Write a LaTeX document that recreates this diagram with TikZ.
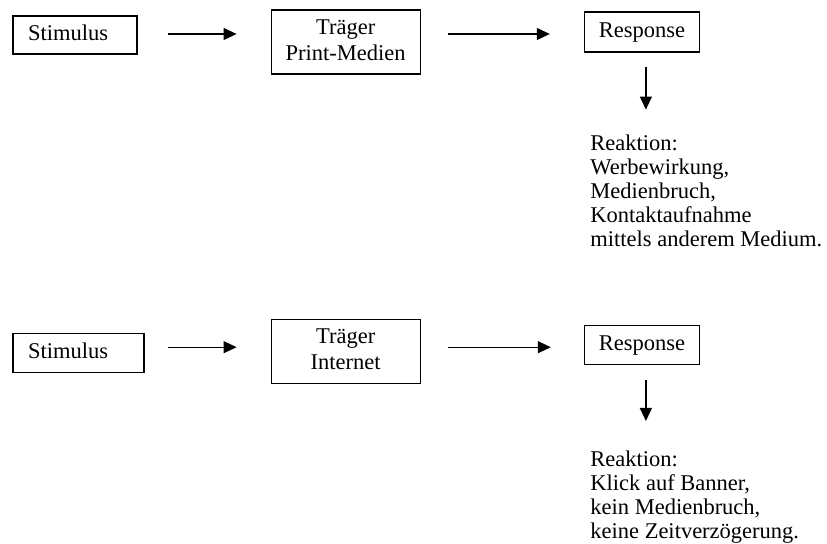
\documentclass[tikz,border=0pt]{standalone}
\usepackage{fontspec}
\setmainfont{Liberation Serif}
\usetikzlibrary{positioning, arrows.meta}
\newcommand{\boxstrut}{\rule[-2.43pt]{0pt}{10pt}}

\begin{document}
\begin{tikzpicture}[>={Triangle[length=6.5pt,width=6pt]}, line width=0.6pt,
    font=\fontsize{11.25}{13}\selectfont,
    box/.style={draw, rectangle, inner sep=0pt, align=center},
    stimbox/.style={box, align=left, inner xsep=7.5pt},
    reaction/.style={align=left, inner sep=0pt, font=\fontsize{11.25}{12}\selectfont}]
    \useasboundingbox (0,0) rectangle (413.5pt,-272pt);

    % Print-Medien
    \node[stimbox, text width=47pt, minimum height=19pt] (stim1) at (37.5pt,-17.5pt) {\boxstrut Stimulus};
    \node[box, minimum width=74.5pt, minimum height=32pt] (trg1) [right=66.5pt of stim1, yshift=-3.5pt] {\boxstrut Träger\\\boxstrut Print-Medien};
    \node[box, minimum width=57.5pt, minimum height=20pt] (resp1) [right=81.5pt of trg1, yshift=5pt] {\boxstrut Response};
    \node[reaction] (reac1) [below right=40.8pt and 3pt of resp1.south west] {Reaktion:\\Werbewirkung,\\Medienbruch,\\Kontaktaufnahme\\mittels anderem Medium.};

    \coordinate (row1) at ([yshift=0.5pt]stim1.east);
    \draw[->, shorten <=15pt, shorten >=17pt] (row1) -- (row1 -| trg1.west);
    \draw[->, shorten <=13.5pt, shorten >=17pt] (row1 -| trg1.east) -- (row1 -| resp1.west);
    \draw[->, shorten <=7pt, shorten >=12.3pt] ([xshift=2pt]resp1.south) -- ([xshift=2pt]resp1.south |- reac1.north);

    % Internet
    \node[stimbox, text width=50.5pt, minimum height=19.5pt] (stim2) [below=139pt of stim1.south west, anchor=north west] {\boxstrut Stimulus};
    \node[box, minimum width=74.5pt, minimum height=32pt] (trg2) [right=63pt of stim2, yshift=0.5pt] {\boxstrut Träger\\\boxstrut Internet};
    \node[box, minimum width=57.5pt, minimum height=19.5pt] (resp2) [right=81.5pt of trg2, yshift=3.4pt] {\boxstrut Response};
    \node[reaction] (reac2) [below right=42.8pt and 3pt of resp2.south west] {Reaktion:\\Klick auf Banner,\\kein Medienbruch,\\keine Zeitverzögerung.};

    \coordinate (row2) at ([yshift=2.75pt]stim2.east);
    \draw[->, shorten <=11.5pt, shorten >=17pt] (row2) -- (row2 -| trg2.west);
    \draw[->, shorten <=13.5pt, shorten >=16.5pt] (row2 -| trg2.east) -- (row2 -| resp2.west);
    \draw[->, shorten <=7.5pt, shorten >=14.8pt] ([xshift=2pt]resp2.south) -- ([xshift=2pt]resp2.south |- reac2.north);
\end{tikzpicture}
\end{document}
